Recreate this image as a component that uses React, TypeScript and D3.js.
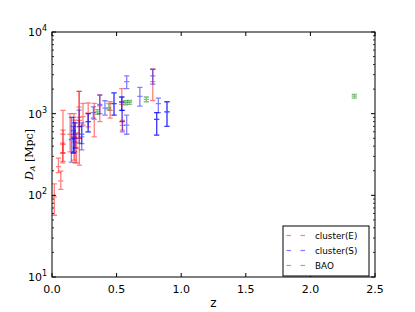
import React from "react";
import * as d3 from "d3";

// x-axis ticks and y-axis decades
const xTicks = [0, 0.5, 1.0, 1.5, 2.0, 2.5];
const yTickExps = [1, 2, 3, 4];

// cluster(E): redshift, D_A, lower bound, upper bound (Mpc)
const eZ = [0.018, 0.05, 0.068, 0.083, 0.085, 0.085, 0.14, 0.17, 0.178, 0.19, 0.21, 0.21, 0.212, 0.24, 0.28, 0.327, 0.37, 0.45, 0.54, 0.545, 0.78];
const eDA = [96, 225, 150, 330, 560, 420, 560, 520, 450, 380, 1200, 900, 500, 920, 1020, 850, 1250, 1100, 1300, 720, 2470];
const eLo = [57, 190, 118, 250, 260, 330, 340, 270, 250, 250, 700, 500, 235, 725, 690, 520, 800, 880, 800, 630, 1450];
const eHi = [138, 286, 198, 435, 1100, 630, 1000, 1000, 835, 580, 1880, 1880, 830, 1340, 1350, 1340, 1700, 1400, 2030, 830, 3500];

// cluster(S)
const sZ = [0.15, 0.165, 0.165, 0.175, 0.18, 0.21, 0.23, 0.23, 0.28, 0.28, 0.32, 0.37, 0.41, 0.48, 0.48, 0.54, 0.54, 0.545, 0.578, 0.578, 0.68, 0.78, 0.81, 0.81, 0.823, 0.89, 0.89];
const sDA = [480, 620, 500, 500, 560, 690, 520, 560, 800, 800, 1030, 1300, 1170, 1330, 1330, 1390, 1390, 800, 2470, 725, 1630, 2900, 850, 850, 1330, 1050, 1050];
const sLo = [255, 330, 330, 340, 380, 435, 360, 430, 600, 600, 880, 1000, 960, 960, 960, 1100, 1100, 600, 2030, 560, 1240, 2300, 547, 547, 1030, 700, 700];
const sHi = [900, 900, 700, 770, 770, 1107, 770, 700, 1000, 1000, 1210, 1690, 1440, 1800, 1800, 1600, 1600, 1100, 2900, 960, 2100, 3500, 1030, 1030, 1550, 1400, 1400];

// BAO
const bZ = [0.35, 0.44, 0.57, 0.6, 0.73, 2.34];
const bDA = [1050, 1180, 1360, 1380, 1500, 1640];
const bLo = [980, 1110, 1280, 1300, 1400, 1550];
const bHi = [1120, 1330, 1440, 1450, 1600, 1720];

const legendLabels = ["cluster(E)", "cluster(S)", "BAO"];
const colors = ["#ff0000", "#0000ff", "#008000"];

export default function App() {
  const W = 415;
  const H = 312;
  const L = 52, R = 375, T = 32, B = 277;
  const x = d3.scaleLinear().domain([0, 2.5]).range([L, R]);
  const y = d3.scaleLog().domain([10, 10000]).range([B, T]);

  const series = [
    { z: eZ, da: eDA, lo: eLo, hi: eHi, color: colors[0] },
    { z: sZ, da: sDA, lo: sLo, hi: sHi, color: colors[1] },
    { z: bZ, da: bDA, lo: bLo, hi: bHi, color: colors[2] },
  ];

  const minor: number[] = [];
  for (let k = 1; k < 4; k++) for (let m = 2; m <= 9; m++) minor.push(m * Math.pow(10, k));

  const cap = 2.6;
  const font = "DejaVu Sans, sans-serif";

  return (
    <svg width={W} height={H} style={{ position: "absolute", left: 0, top: 0, background: "#fff" }}>
      <rect x={0} y={0} width={W} height={H} fill="#fff" />
      {/* data */}
      {series.map((s, si) => (
        <g key={si}>
          {s.z.map((z, i) => {
            const cx = x(z);
            const pts = `M${cx},${y(s.lo[i])}V${y(s.hi[i])}` +
              `M${cx - cap},${y(s.lo[i])}H${cx + cap}` +
              `M${cx - cap},${y(s.hi[i])}H${cx + cap}` +
              `M${cx - cap},${y(s.da[i])}H${cx + cap}`;
            return <path key={i} d={pts} stroke={s.color} strokeWidth={1.3} fill="none" opacity={0.5} />;
          })}
        </g>
      ))}
      {/* frame */}
      <rect x={L} y={T} width={R - L} height={B - T} fill="none" stroke="#000" strokeWidth={1} />
      {/* x ticks */}
      {xTicks.map((t, i) => (
        <g key={i}>
          <line x1={x(t)} x2={x(t)} y1={B} y2={B - 4} stroke="#000" />
          <line x1={x(t)} x2={x(t)} y1={T} y2={T + 4} stroke="#000" />
          <text x={x(t)} y={293} fontFamily={font} fontSize={11} textAnchor="middle">{t.toFixed(1)}</text>
        </g>
      ))}
      {/* y ticks */}
      {yTickExps.map((k, i) => {
        const v = Math.pow(10, k);
        return (
          <g key={i}>
            <line x1={L} x2={L + 4} y1={y(v)} y2={y(v)} stroke="#000" />
            <line x1={R} x2={R - 4} y1={y(v)} y2={y(v)} stroke="#000" />
            <text x={L - 5} y={y(v) + 4} fontFamily={font} fontSize={11} textAnchor="end">
              10<tspan dy={-5} fontSize={8}>{k}</tspan>
            </text>
          </g>
        );
      })}
      {minor.map((v, i) => (
        <g key={i}>
          <line x1={L} x2={L + 2} y1={y(v)} y2={y(v)} stroke="#000" strokeWidth={0.8} />
          <line x1={R} x2={R - 2} y1={y(v)} y2={y(v)} stroke="#000" strokeWidth={0.8} />
        </g>
      ))}
      {/* axis labels */}
      <text x={(L + R) / 2} y={307} fontFamily={font} fontSize={12} textAnchor="middle">z</text>
      <text transform={`translate(33,${(T + B) / 2}) rotate(-90)`} fontFamily="DejaVu Serif, serif" fontSize={11} textAnchor="middle">
        <tspan fontStyle="italic">D</tspan>
        <tspan fontSize={8} fontStyle="italic" dy={2}>A</tspan>
        <tspan dy={-2}> [Mpc]</tspan>
      </text>
      {/* legend */}
      <rect x={283} y={226} width={86} height={50} fill="#fff" stroke="#000" strokeWidth={1} />
      {legendLabels.map((lab, i) => {
        const ly = 235.5 + i * 15;
        return (
          <g key={i}>
            <line x1={286.5} x2={291} y1={ly} y2={ly} stroke={colors[i]} strokeWidth={1.2} opacity={0.5} />
            <line x1={300.5} x2={305} y1={ly} y2={ly} stroke={colors[i]} strokeWidth={1.2} opacity={0.5} />
            <text x={315} y={ly + 3} fontFamily={font} fontSize={8.8}>{lab}</text>
          </g>
        );
      })}
    </svg>
  );
}
